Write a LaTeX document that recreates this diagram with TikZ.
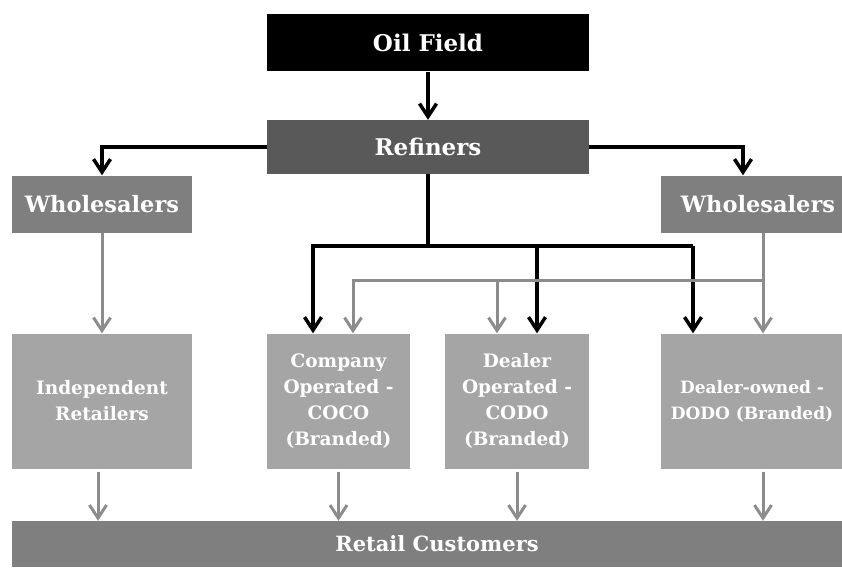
\documentclass[tikz,border=0pt]{standalone}
\usepackage{fontspec}
\setmainfont{DejaVu Serif}
\usetikzlibrary{arrows.meta}
\definecolor{refgray}{HTML}{595959}
\definecolor{midgray}{HTML}{7F7F7F}
\definecolor{lightgray}{HTML}{A5A5A5}
\definecolor{arrowgray}{HTML}{8C8C8C}
\tikzset{
  box/.style = {draw=none, text=white, inner sep=0pt, align=center,
    font=\bfseries\fontsize{18.5}{26}\selectfont},
  bigbox/.style = {box, font=\bfseries\fontsize{23}{26}\selectfont},
  blackline/.style = {line width=3.5pt, black},
  grayline/.style = {line width=3pt, arrowgray},
  tip/.style = {-{Straight Barb[length=13pt,width=17pt]}}
}
\begin{document}
\begin{tikzpicture}[x=1pt, y=-1pt]
  \useasboundingbox (0,0) rectangle (842,567);
  % top of the chain
  \node[bigbox, fill=black, minimum width=322pt, minimum height=57pt] (oil) at (428,43) {Oil Field};
  \node[bigbox, fill=refgray, minimum width=322pt, minimum height=54pt] (ref) at (428,147) {Refiners};
  \node[box, fill=midgray, minimum width=180pt, minimum height=57pt,
        font=\bfseries\fontsize{22.5}{26}\selectfont] (whlL) at (102,204) {Wholesalers};
  \node[box, fill=midgray, minimum width=194pt, minimum height=57pt,
        font=\bfseries\fontsize{22.5}{26}\selectfont] (whlR) at (758,204) {Wholesalers};
  % retail outlets
  \node[box, fill=lightgray, minimum width=180pt, minimum height=135pt] (ind) at (102,401) {Independent\\Retailers};
  \node[box, fill=lightgray, minimum width=143pt, minimum height=135pt] (coco) at (338.5,401) {Company\\Operated -\\COCO\\(Branded)};
  \node[box, fill=lightgray, minimum width=144pt, minimum height=135pt] (codo) at (517,401) {Dealer\\Operated -\\CODO\\(Branded)};
  \node[box, fill=lightgray, minimum width=182pt, minimum height=135pt,
        font=\bfseries\fontsize{17}{26}\selectfont] (dodo) at (752,401) {Dealer-owned -\\DODO (Branded)};
  \node[box, fill=midgray, minimum width=850pt, minimum height=46pt,
        font=\bfseries\fontsize{21}{26}\selectfont] (cust) at (437,544) {Retail Customers};
  \coordinate (fork) at (428,246);
  \coordinate (forkR) at (693,246);
  \coordinate (grayR) at (763,280);
  % black flow from refiners
  \draw[blackline, tip] (oil) -- (ref);
  \draw[blackline, tip] (ref.west) -| (whlL.north);
  \draw[blackline, tip] (ref.east) -| ([xshift=-15pt]whlR.north);
  \draw[blackline] (ref.south) -- (fork);
  \draw[blackline, tip] (forkR) -| ([xshift=-25.5pt]coco.north);
  \draw[blackline, tip] (forkR) -- ([xshift=-59pt]dodo.north);
  \draw[blackline, tip] ([xshift=20pt]codo.north |- fork) -- ([xshift=20pt]codo.north);
  % gray flow from wholesalers
  \draw[grayline, tip] (whlL) -- (ind);
  \draw[grayline, tip] ([xshift=5pt]whlR.south) -- ([xshift=11pt]dodo.north);
  \draw[grayline, tip] (grayR) -| ([xshift=14.5pt]coco.north);
  \draw[grayline, tip] ([xshift=-20pt]codo.north |- grayR) -- ([xshift=-20pt]codo.north);
  % into retail customers
  \foreach \shop/\dx in {ind/-4, coco/0, codo/0, dodo/11}
    \draw[grayline, tip, shorten <=3pt] ([xshift=\dx pt]\shop.south) -- ([xshift=\dx pt]\shop.south |- cust.north);
\end{tikzpicture}
\end{document}
